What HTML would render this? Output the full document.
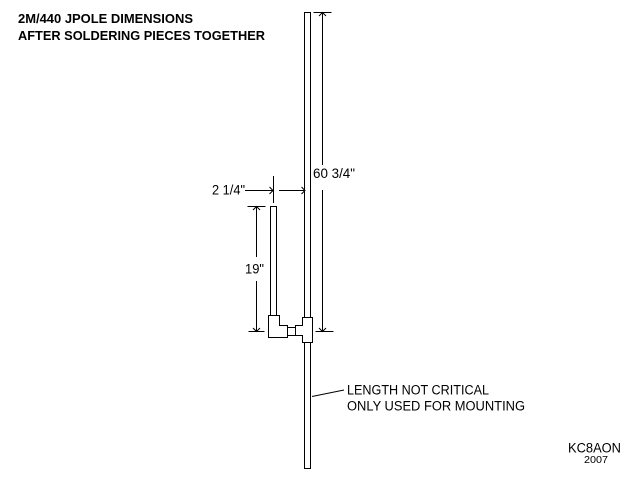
<!DOCTYPE html>
<html><head><meta charset="utf-8"><style>html,body{margin:0;padding:0;background:#fff}svg{display:block}text{font-family:"Liberation Sans",Arial,sans-serif;fill:#000}</style></head>
<body>
<svg width="640" height="480" viewBox="0 0 640 480" xmlns="http://www.w3.org/2000/svg">
<rect width="640" height="480" fill="#fff"/>
<g fill="none" stroke="#000" stroke-width="1" shape-rendering="crispEdges">
<!-- main pole -->
<path d="M304.5 317.5V12.5H310.5V317.5"/>
<path d="M304.5 342.5V468.5H310.5V342.5"/>
<!-- left stub -->
<path d="M270.5 315.5V206.5H276.5V315.5"/>
<!-- elbow -->
<path d="M268.5 315.5H279.5V325.5H287.5V337.5H268.5Z"/>
<!-- coupler -->
<path d="M287.5 327.5H295.5V335.5H287.5Z"/>
<!-- tee -->
<path d="M302.5 317.5H312.5V342.5H302.5V335.5H295.5V325.5H302.5Z"/>
<!-- dimension lines -->
<path d="M313.5 12.5H331.5M322.5 12.5V165M322.5 190V331.5M315.5 331.5H333.5"/>
<path d="M247.5 206.5H265.5M256.5 206.5V257M256.5 281V331.5M248.5 331.5H264.5"/>
<path d="M273.5 176V203M245 190.5H273M279 190.5H305"/>
</g>
<g fill="none" stroke="#000" stroke-width="1">
<path d="M319 16L322.5 12.5L326 16"/>
<path d="M319 328L322.5 331.5L326 328"/>
<path d="M253 210L256.5 206.5L260 210"/>
<path d="M253 328L256.5 331.5L260 328"/>
<path d="M269.5 187L273 190.5L269.5 194"/>
<path d="M301.5 187L305 190.5L301.5 194"/>
<path d="M312 396.5L344 390"/>
</g>
<text x="18" y="23" font-size="12.5" font-weight="bold" textLength="175" lengthAdjust="spacingAndGlyphs">2M/440 JPOLE DIMENSIONS</text>
<text x="18" y="40" font-size="12.5" font-weight="bold" textLength="247" lengthAdjust="spacingAndGlyphs">AFTER SOLDERING PIECES TOGETHER</text>
<text x="212" y="194.5" font-size="13.5" textLength="33" lengthAdjust="spacingAndGlyphs">2 1/4"</text>
<text x="313" y="178" font-size="13.5" textLength="42" lengthAdjust="spacingAndGlyphs">60 3/4"</text>
<text x="245" y="273.5" font-size="13.5" textLength="19" lengthAdjust="spacingAndGlyphs">19"</text>
<text x="347" y="394.5" font-size="13.5" textLength="142" lengthAdjust="spacingAndGlyphs">LENGTH NOT CRITICAL</text>
<text x="347" y="410.5" font-size="13.5" textLength="178" lengthAdjust="spacingAndGlyphs">ONLY USED FOR MOUNTING</text>
<text x="568" y="452.5" font-size="13.5" textLength="53" lengthAdjust="spacingAndGlyphs">KC8AON</text>
<text x="584" y="463" font-size="10" textLength="24" lengthAdjust="spacingAndGlyphs">2007</text>
</svg>
</body></html>
